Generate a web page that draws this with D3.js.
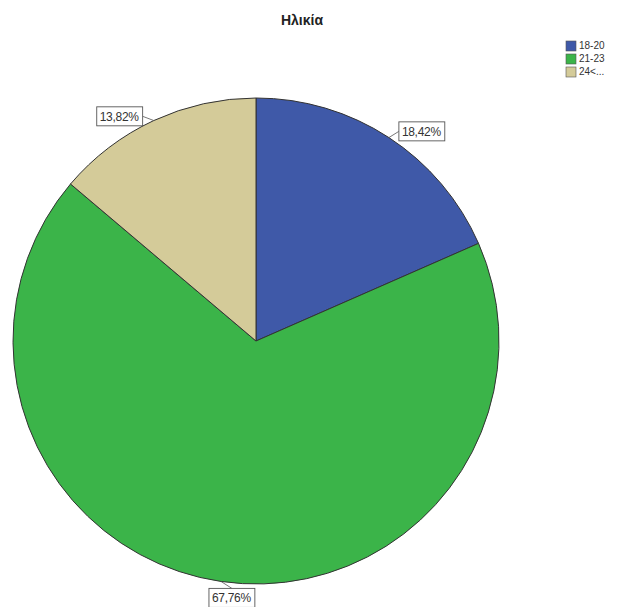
<!DOCTYPE html>
<html>
<head>
<meta charset="utf-8">
<script src="https://cdn.jsdelivr.net/npm/d3@7"></script>
<style>
  html, body { margin: 0; padding: 0; background: #fff; }
  svg { display: block; font-family: "Liberation Sans", Arial, sans-serif; }
</style>
</head>
<body>
<svg id="chart" width="622" height="607"></svg>
<script>
// Age groups and their share of respondents (%)
const categories = ["18-20", "21-23", "24<..."];
const shares = [18.42, 67.76, 13.82];
const colors = ["#3f59a8", "#3bb449", "#d4cb99"];
const title = "Ηλικία";

const svg = d3.select("#chart");
const cx = 256, cy = 341, r = 243;

const fmt = v => d3.format(".2f")(v).replace(".", ",") + "%";

const pie = d3.pie().sort(null).value(d => d.value);
const data = categories.map((c, i) => ({ cat: c, value: shares[i], color: colors[i] }));
const arcs = pie(data);

const arc = d3.arc().innerRadius(0).outerRadius(r);
const edgeArc = d3.arc().innerRadius(r).outerRadius(r);
const labelArc = d3.arc().innerRadius(r * 1.06).outerRadius(r * 1.06);

const g = svg.append("g").attr("transform", `translate(${cx},${cy})`);

g.selectAll("path.slice")
  .data(arcs)
  .enter().append("path")
  .attr("class", "slice")
  .attr("d", arc)
  .attr("fill", d => d.data.color)
  .attr("stroke", "#333")
  .attr("stroke-width", 1);

// Value labels in boxes, joined to the slice edge by a short leader line
const labels = g.selectAll("g.lab").data(arcs).enter().append("g").attr("class", "lab");

labels.each(function (d) {
  const sel = d3.select(this);
  const mid = (d.startAngle + d.endAngle) / 2;
  const [ex, ey] = edgeArc.centroid(d);
  const [lx, ly] = labelArc.centroid(d);
  const side = Math.sin(mid);
  const t = sel.append("text")
    .attr("font-size", 12)
    .attr("letter-spacing", -0.3)
    .attr("fill", "#333")
    .attr("dominant-baseline", "middle")
    .text(fmt(d.data.value));
  const w = t.node().getComputedTextLength();
  const bw = w + 7, bh = 19;
  let bx, by;
  if (Math.abs(side) < 0.3) { bx = lx + 13 - bw / 2; by = ly + 2; }
  else if (side > 0) { bx = lx + 2; by = ly + 6; }
  else { bx = lx - 5 - bw; by = ly + 9; }
  t.attr("x", bx + 3).attr("y", by + 1);
  const ax = Math.abs(side) < 0.3 ? bx + bw / 2 : (side > 0 ? bx : bx + bw);
  const ay = Math.abs(side) < 0.3 ? by - bh / 2 : by;
  sel.insert("line", "text")
    .attr("x1", ex).attr("y1", ey).attr("x2", ax).attr("y2", ay)
    .attr("stroke", "#555").attr("stroke-width", 0.8);
  sel.insert("rect", "text")
    .attr("x", bx).attr("y", by - bh / 2)
    .attr("width", bw).attr("height", bh)
    .attr("fill", "#fff").attr("stroke", "#555").attr("stroke-width", 0.9);
});

// Title
svg.append("text")
  .attr("x", 302).attr("y", 25)
  .attr("text-anchor", "middle")
  .attr("font-size", 14)
  .attr("font-weight", "bold")
  .attr("fill", "#222")
  .text(title);

// Legend
const legend = svg.append("g").attr("transform", "translate(566,41)");
const rows = legend.selectAll("g").data(data).enter().append("g")
  .attr("transform", (d, i) => `translate(0,${i * 13})`);
rows.append("rect")
  .attr("width", 10).attr("height", 10)
  .attr("fill", d => d.color).attr("stroke", "#555").attr("stroke-width", 0.6);
rows.append("text")
  .attr("x", 13).attr("y", 5.5)
  .attr("dominant-baseline", "middle")
  .attr("font-size", 10)
  .attr("fill", "#333")
  .text(d => d.cat);
</script>
</body>
</html>
